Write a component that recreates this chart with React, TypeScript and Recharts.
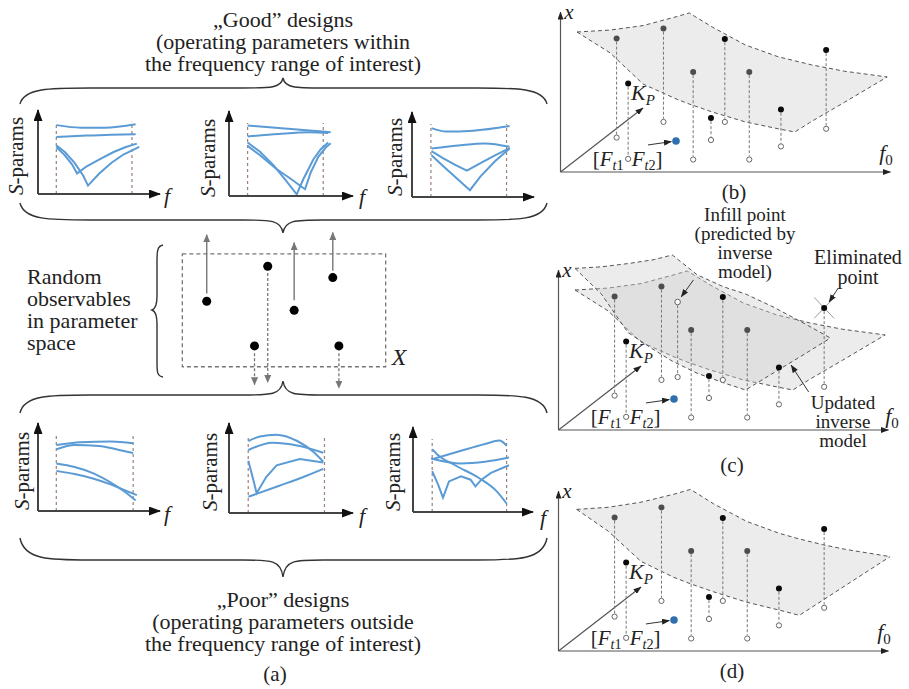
import React from "react";
import {
  LineChart,
  Line,
  ScatterChart,
  Scatter,
  ComposedChart,
  Area,
  XAxis,
  YAxis,
  ReferenceLine,
  ReferenceArea,
} from "recharts";

const SERIF = "'Liberation Serif', 'Times New Roman', serif";
const BLUE = "#5b9bd5";
const INK = "#222";

// ---- S-parameter sketches: f and |S| both run 0..100 along the drawn axes ----
type Pt = { f: number; s: number };
type Curve = { pts: Pt[]; sharp?: boolean };
const pts = (a: number[][]): Pt[] => a.map(([f, s]) => ({ f, s }));

const good1: Curve[] = [
  { pts: pts([[15, 82], [35, 79], [55, 79], [80, 83]]) },
  { pts: pts([[15, 68], [40, 69.5], [60, 70.5], [80, 71]]) },
  { pts: pts([[15, 58], [22, 50], [30, 37], [37, 22], [41, 10], [50, 24], [60, 37], [70, 47], [83, 56]]), sharp: true },
  { pts: pts([[15, 56], [22, 46], [28, 35], [32, 24.5], [40, 33], [50, 41], [62, 50], [72, 56], [81, 60]]), sharp: true },
];
const good2: Curve[] = [
  { pts: pts([[15, 83], [40, 80], [65, 77], [82, 75]]) },
  { pts: pts([[15, 70], [40, 73], [65, 75], [80, 74]]) },
  { pts: pts([[15, 63], [25, 52], [36, 36], [46, 18], [54.6, 2], [60, 20], [68, 43], [74, 55], [80, 63]]), sharp: true },
  { pts: pts([[15, 59], [25, 48], [38, 32], [50, 20], [61.3, 8], [66, 28], [72, 46], [78, 57], [82, 62]]), sharp: true },
];
const good3: Curve[] = [
  { pts: pts([[16, 81], [28, 77], [50, 78], [80, 83.5]]) },
  { pts: pts([[16, 57], [40, 61], [60, 63], [80, 59]]) },
  { pts: pts([[16, 54], [25, 46], [35, 38], [45, 31], [55, 39], [68, 49], [80, 57.5]]), sharp: true },
  { pts: pts([[16, 49], [25, 37], [35, 24], [47.5, 8], [56, 24], [68, 42], [80, 57]]), sharp: true },
];
const poor1: Curve[] = [
  { pts: pts([[15, 75], [35, 78], [60, 79], [78, 77]]) },
  { pts: pts([[15, 70], [30, 75], [50, 74], [65, 70], [78, 66]]) },
  { pts: pts([[15, 54], [30, 50], [45, 43], [60, 32], [72, 21], [80, 12]]) },
  { pts: pts([[15, 45.6], [30, 42], [45, 37], [60, 30], [72, 23], [81, 18]]) },
];
const poor2: Curve[] = [
  { pts: pts([[15.6, 80], [25, 85], [38, 87], [55, 80], [68, 68], [76, 57]]) },
  { pts: pts([[15.6, 70], [35, 78], [55, 75], [76, 67]]) },
  { pts: pts([[15.6, 58], [19, 40], [22.3, 22], [30, 40], [38.4, 53], [57, 60], [76, 56]]), sharp: true },
  { pts: pts([[15.6, 18], [40, 30], [60, 40], [76, 49]]) },
];
const poor3: Curve[] = [
  { pts: pts([[16, 62], [40, 72], [60, 80], [72, 84], [78, 78]]) },
  { pts: pts([[15, 63], [40, 57], [60, 59], [80, 64]]) },
  { pts: pts([[16, 74], [20, 68], [35, 55], [55, 40], [70, 24], [78, 10]]) },
  { pts: pts([[16, 48], [21, 32], [25, 17], [30, 36], [40, 42], [48, 38], [52, 30], [57, 38], [65, 46], [80, 55]]), sharp: true },
];

// ---- random observables in parameter space (p1, p2 in 0..100 of the box X) ----
const obsP1 = [12, 42, 55, 74, 35.5, 77];
const obsP2 = [58, 89, 50, 79, 18.5, 18.5];
const goodMoves = [
  { p1: 12, from: 65, to: 117 },
  { p1: 55, from: 59, to: 110 },
  { p1: 74, from: 85, to: 119 },
];
const poorMoves = [
  { p1: 35.5, from: 12, to: -16 },
  { p1: 42, from: 83, to: -14 },
  { p1: 77, from: 12, to: -19 },
];

// ---- inverse model panels: f0 and x in 0..100 along the drawn axes ----
const ptF0 = [17, 31.2, 49.8, 80.5, 40.2, 57.2, 66.8, 45.6, 20.5];
const ptX = [83.5, 89.7, 83.1, 76.3, 62.5, 62.5, 39, 33.8, 55.3];
const ptBase = [21.5, 31.3, 31.3, 27, 7.8, 7.8, 16, 20, 8.2];
const ptOnSurface = [true, true, false, false, true, true, false, false, false];
const target = { f0: 35, x: 19.4 };
const infill = { f0: 36.1, x: 80, base: 33.1 };

const surfF0 = [5, 15, 25, 35, 39, 46, 56, 66, 71, 76, 81, 86, 99];
const surfTop = [87.5, 88.7, 91.5, 97, 99.4, 90.6, 79.4, 72, 69.5, 67, 65, 63, 59.4];
const surfBottom = [87.5, 74.5, 55, 45.7, 42.5, 37.5, 31.3, 27, 25, 31.5, 37.5, 43.5, 59.4];

const updF0 = [5, 13, 21, 29, 34.5, 42, 50, 56.7, 65, 75, 82.4];
const updTop = [101, 102, 104, 106.5, 109.4, 97, 89.5, 85, 77, 66, 57.5];
const updBottom = [101, 85, 61, 50, 43, 35.5, 29.5, 25, 35.5, 48, 57.5];

const finF0 = [5.5, 15, 25, 35, 40, 47, 57, 67, 73, 80, 87, 100.5];
const finTop = [88.5, 89.8, 93, 98, 101, 92, 81, 73.5, 70, 66.5, 63.5, 59];
const finBottom = [88.5, 75, 56, 46, 42, 37, 30.5, 25.5, 22.3, 31.6, 41, 59];

const toBand = (f0s: number[], lo: number[], hi: number[]) =>
  f0s.map((f0, i) => ({ f0, band: [lo[i], hi[i]] }));

const surfInit = toBand(surfF0, surfBottom, surfTop);
const surfUpd = toBand(updF0, updBottom, updTop);
const surfFinal = toBand(finF0, finBottom, finTop);

const samples = ptF0.map((f0, i) => ({ f0, x: ptX[i], base: ptBase[i], on: ptOnSurface[i] }));

// ---------------------------------------------------------------------------

function Label({ x, y, size = 22, align = "center", lh, italic, rotate, children }: any) {
  const tx = align === "center" ? "-50%" : align === "right" ? "-100%" : "0";
  return (
    <div
      style={{
        position: "absolute",
        left: x,
        top: y,
        transform: `translate(${tx}, -50%)${rotate ? ` rotate(${rotate}deg)` : ""}`,
        fontSize: size,
        lineHeight: lh ? `${lh}px` : 1,
        whiteSpace: "nowrap",
        textAlign: align,
        fontStyle: italic ? "italic" : "normal",
      }}
    >
      {children}
    </div>
  );
}

const Sub = ({ children, italic }: any) => (
  <span style={{ fontSize: "0.68em", verticalAlign: "-0.28em", fontStyle: italic ? "italic" : "normal" }}>{children}</span>
);

function SParamPlot({ ox, oy, w, h, band, curves }: { ox: number; oy: number; w: number; h: number; band: number[]; curves: Curve[] }) {
  const m = { top: 8, right: 14, bottom: 6, left: 6 };
  return (
    <div style={{ position: "absolute", left: ox - m.left, top: oy - h - m.top }}>
      <LineChart width={w + m.left + m.right} height={h + m.top + m.bottom} margin={m}>
        <XAxis dataKey="f" type="number" domain={[0, 100]} hide allowDataOverflow />
        <YAxis type="number" domain={[0, 100]} hide allowDataOverflow />
        {band.map((b) => (
          <ReferenceLine key={b} segment={[{ x: b, y: 0 }, { x: b, y: 86 }]} stroke="#9a817a" strokeWidth={1.2} strokeDasharray="3 3" />
        ))}
        {curves.map((c, i) => (
          <Line
            key={i}
            data={c.pts}
            dataKey="s"
            type={c.sharp ? "linear" : "monotone"}
            stroke={BLUE}
            strokeWidth={2}
            dot={false}
            activeDot={false}
            isAnimationActive={false}
          />
        ))}
        <ReferenceLine segment={[{ x: 0, y: 0 }, { x: 100, y: 0 }]} stroke="#444" strokeWidth={2} markerEnd="url(#ahBig)" />
        <ReferenceLine segment={[{ x: 0, y: 0 }, { x: 0, y: 100 }]} stroke="#444" strokeWidth={2} markerEnd="url(#ahBig)" />
      </LineChart>
    </div>
  );
}

const dot = (r: number, fill: string, stroke = "none") => (p: any) => (
  <circle cx={p.cx} cy={p.cy} r={r} fill={fill} stroke={stroke} strokeWidth={1} />
);

function Panel3D({ ox, oy, surfaces, showInfill }: { ox: number; oy: number; surfaces: any[][]; showInfill?: boolean }) {
  const onPts = samples.filter((s) => s.on);
  const offPts = samples.filter((s) => !s.on);
  const bases = samples.map((s) => ({ f0: s.f0, x: s.base }));
  if (showInfill) bases.push({ f0: infill.f0, x: infill.base });
  return (
    <div style={{ position: "absolute", left: ox - 5 * 3.3, top: oy - 115 * 1.6 }}>
      <ComposedChart width={363} height={216} margin={{ top: 0, right: 0, bottom: 0, left: 0 }}>
        <XAxis dataKey="f0" type="number" domain={[-5, 105]} hide />
        <YAxis type="number" domain={[-20, 115]} hide />
        {surfaces.map((s, i) => (
          <Area
            key={i}
            data={s}
            dataKey="band"
            type="linear"
            stroke="#555"
            strokeWidth={1}
            strokeDasharray="4 3"
            fill="#cfcfcf"
            fillOpacity={0.4}
            dot={false}
            activeDot={false}
            isAnimationActive={false}
          />
        ))}
        <ReferenceLine segment={[{ x: 0, y: 0 }, { x: 0, y: 100 }]} stroke="#555" strokeWidth={1.2} markerEnd="url(#ahSmall)" />
        <ReferenceLine segment={[{ x: 0, y: 0 }, { x: 100, y: 0 }]} stroke="#555" strokeWidth={1.2} markerEnd="url(#ahSmall)" />
        <ReferenceLine segment={[{ x: 0, y: 0 }, { x: 25, y: 40 }]} stroke="#555" strokeWidth={1.2} markerEnd="url(#ahSmall)" />
        {samples.map((s, i) => (
          <ReferenceLine key={i} segment={[{ x: s.f0, y: s.x - 2 }, { x: s.f0, y: s.base + 2 }]} stroke="#777" strokeDasharray="3 2" />
        ))}
        {showInfill && (
          <ReferenceLine segment={[{ x: infill.f0, y: infill.x - 2 }, { x: infill.f0, y: infill.base + 2 }]} stroke="#777" strokeDasharray="3 2" />
        )}
        <ReferenceLine segment={[{ x: 26.5, y: 16.9 }, { x: 33.6, y: 19 }]} stroke="#333" strokeWidth={1} markerEnd="url(#ahSmall)" />
        {showInfill && (
          <>
            <ReferenceLine segment={[{ x: 77.5, y: 82.8 }, { x: 83.5, y: 69.8 }]} stroke="#999" strokeWidth={1} />
            <ReferenceLine segment={[{ x: 77.5, y: 69.8 }, { x: 83.5, y: 82.8 }]} stroke="#999" strokeWidth={1} />
            <ReferenceLine segment={[{ x: 40.9, y: 93.8 }, { x: 37.2, y: 83.2 }]} stroke="#333" strokeWidth={1} markerEnd="url(#ahSmall)" />
            <ReferenceLine segment={[{ x: 84.8, y: 88.8 }, { x: 82, y: 80 }]} stroke="#333" strokeWidth={1} markerEnd="url(#ahSmall)" />
            <ReferenceLine segment={[{ x: 75.8, y: 23.8 }, { x: 70.5, y: 40.5 }]} stroke="#333" strokeWidth={1} markerEnd="url(#ahSmall)" />
          </>
        )}
        <Scatter data={bases} dataKey="x" shape={dot(2.6, "#fff", "#666")} isAnimationActive={false} />
        {showInfill && (
          <Scatter data={[{ f0: infill.f0, x: infill.x }]} dataKey="x" shape={dot(2.8, "#fff", "#666")} isAnimationActive={false} />
        )}
        <Scatter data={onPts} dataKey="x" shape={dot(3, "#4d4d4d")} isAnimationActive={false} />
        <Scatter data={offPts} dataKey="x" shape={dot(3, "#0a0a0a")} isAnimationActive={false} />
        <Scatter data={[target]} dataKey="x" shape={dot(3.8, "#2f6fae")} isAnimationActive={false} />
      </ComposedChart>
    </div>
  );
}

function PanelText({ ox, oy, tag, f0Dx = 326, f0Dy = -17, tagDy = 20 }: any) {
  const bx = ox + 20.5 * 3.3;
  return (
    <>
      <Label x={ox + 9} y={oy - 160} size={21} italic>x</Label>
      <Label x={ox + f0Dx} y={oy + f0Dy} size={22}>
        <i>f</i>
        <Sub>0</Sub>
      </Label>
      <Label x={ox + 83} y={oy - 77} size={22}>
        <i>K</i>
        <Sub italic>P</Sub>
      </Label>
      <Label x={bx - 4} y={oy - 11} size={21} align="right">
        [<i>F</i>
        <Sub>
          <i>t</i>1
        </Sub>
      </Label>
      <Label x={bx + 4} y={oy - 11} size={21} align="left">
        <i>F</i>
        <Sub>
          <i>t</i>2
        </Sub>
        ]
      </Label>
      <Label x={ox + 174} y={oy + tagDy} size={21}>{tag}</Label>
    </>
  );
}

function hBrace(x1: number, x2: number, xm: number, yEnd: number, yBar: number, yTip: number) {
  return `M${x1},${yEnd} C${x1 + 4},${yBar} ${x1 + 30},${yBar} ${x1 + 70},${yBar} L${xm - 40},${yBar} C${xm - 12},${yBar} ${xm - 2},${yBar} ${xm},${yTip} C${xm + 2},${yBar} ${xm + 12},${yBar} ${xm + 40},${yBar} L${x2 - 70},${yBar} C${x2 - 30},${yBar} ${x2 - 4},${yBar} ${x2},${yEnd}`;
}

export default function App() {
  return (
    <div
      style={{
        position: "absolute",
        left: 0,
        top: 0,
        width: 909,
        height: 689,
        overflow: "hidden",
        background: "#fff",
        fontFamily: SERIF,
        color: INK,
      }}
    >
      <svg width={0} height={0} style={{ position: "absolute" }}>
        <defs>
          <marker id="ahBig" viewBox="0 0 12 9" refX="11" refY="4.5" markerWidth="12" markerHeight="9" markerUnits="userSpaceOnUse" orient="auto">
            <path d="M0,0 L12,4.5 L0,9 z" fill="#111" />
          </marker>
          <marker id="ahSmall" viewBox="0 0 8 6" refX="7.5" refY="3" markerWidth="8" markerHeight="6" markerUnits="userSpaceOnUse" orient="auto">
            <path d="M0,0 L8,3 L0,6 z" fill="#222" />
          </marker>
          <marker id="ahGray" viewBox="0 0 8 7" refX="7.5" refY="3.5" markerWidth="8" markerHeight="7" markerUnits="userSpaceOnUse" orient="auto">
            <path d="M0,0 L8,3.5 L0,7 z" fill="#777" />
          </marker>
        </defs>
      </svg>

      {/* braces */}
      <svg width={909} height={689} style={{ position: "absolute", left: 0, top: 0 }}>
        <g fill="none" stroke="#333" strokeWidth={1.4}>
          <path d={hBrace(20, 547, 283, 104, 88, 78)} />
          <path d={hBrace(20, 547, 283, 203, 220, 233)} />
          <path d={hBrace(20, 547, 283, 413, 395, 381)} />
          <path d={hBrace(20, 547, 283, 538, 560, 577)} />
          <path d="M163,245 C157,246 157,252 157,262 L157,296 C157,306 155,309 152,310 C155,311 157,314 157,324 L157,362 C157,372 157,376 163,377" />
        </g>
      </svg>

      {/* left column text */}
      <Label x={283} y={42} lh={22}>
        „Good” designs
        <br />
        (operating parameters within
        <br />
        the frequency range of interest)
      </Label>
      <Label x={27} y={310} lh={22} align="left">
        Random
        <br />
        observables
        <br />
        in parameter
        <br />
        space
      </Label>
      <Label x={283} y={622} lh={22}>
        „Poor” designs
        <br />
        (operating parameters outside
        <br />
        the frequency range of interest)
      </Label>
      <Label x={275} y={674} size={21}>(a)</Label>

      {/* S-parameter sketches */}
      <SParamPlot ox={38} oy={194} w={122} h={84} band={[15, 77]} curves={good1} />
      <SParamPlot ox={229} oy={196} w={124} h={85} band={[15, 76]} curves={good2} />
      <SParamPlot ox={412} oy={197} w={122} h={85} band={[15.5, 77.5]} curves={good3} />
      <SParamPlot ox={38} oy={511} w={122} h={88} band={[15, 78]} curves={poor1} />
      <SParamPlot ox={229} oy={513} w={124} h={90} band={[15.5, 77]} curves={poor2} />
      <SParamPlot ox={413} oy={512} w={120} h={85} band={[16, 78]} curves={poor3} />

      {[
        [16, 156],
        [208, 158],
        [395, 157],
        [22, 471],
        [210, 472],
        [393, 472],
      ].map(([x, y], i) => (
        <Label key={i} x={x} y={y} size={21} rotate={-90}>
          <i>S</i>-params
        </Label>
      ))}
      {[
        [167, 196],
        [362, 197],
        [167, 514],
        [362, 516],
        [543, 518],
      ].map(([x, y], i) => (
        <Label key={i} x={x} y={y} size={22} italic>
          f
        </Label>
      ))}

      {/* parameter space */}
      <div style={{ position: "absolute", left: 162, top: 220 }}>
        <ScatterChart width={244} height={175} margin={{ top: 0, right: 0, bottom: 0, left: 0 }}>
          <XAxis dataKey="p1" type="number" domain={[-10, 110]} hide />
          <YAxis dataKey="p2" type="number" domain={[-25, 130]} hide />
          <ReferenceArea x1={0} x2={100} y1={0} y2={100} fill="none" stroke="#777" strokeWidth={1.3} strokeDasharray="4 3" />
          {goodMoves.map((m, i) => (
            <ReferenceLine key={i} segment={[{ x: m.p1, y: m.from }, { x: m.p1, y: m.to }]} stroke="#777" strokeWidth={1.4} markerEnd="url(#ahGray)" />
          ))}
          {poorMoves.map((m, i) => (
            <ReferenceLine key={i} segment={[{ x: m.p1, y: m.from }, { x: m.p1, y: m.to }]} stroke="#777" strokeWidth={1.3} strokeDasharray="3 2" markerEnd="url(#ahGray)" />
          ))}
          <Scatter
            data={obsP1.map((p1, i) => ({ p1, p2: obsP2[i] }))}
            shape={dot(4.5, "#000")}
            isAnimationActive={false}
          />
        </ScatterChart>
      </div>
      <Label x={399} y={357} size={24} italic>X</Label>

      {/* inverse-model panels */}
      <Panel3D ox={560} oy={172} surfaces={[surfInit]} />
      <PanelText ox={560} oy={172} tag="(b)" />

      <Panel3D ox={558} oy={430} surfaces={[surfInit, surfUpd]} showInfill />
      <PanelText ox={558} oy={430} tag="(c)" f0Dx={334} f0Dy={-12} tagDy={35} />
      <Label x={745} y={243} size={19} lh={19}>
        Infill point
        <br />
        (predicted by
        <br />
        inverse
        <br />
        model)
      </Label>
      <Label x={858} y={267} size={20} lh={20}>
        Eliminated
        <br />
        point
      </Label>
      <Label x={843} y={421} size={19} lh={19}>
        Updated
        <br />
        inverse
        <br />
        model
      </Label>

      <Panel3D ox={558} oy={651} surfaces={[surfFinal]} />
      <PanelText ox={558} oy={651} tag="(d)" />
    </div>
  );
}
